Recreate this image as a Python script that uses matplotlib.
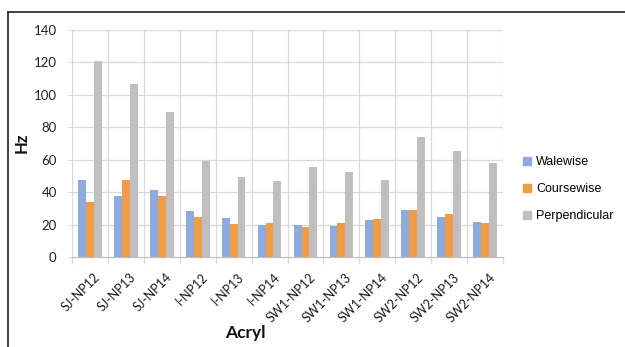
import matplotlib
matplotlib.use("Agg")
import matplotlib.pyplot as plt
import matplotlib.transforms as mtransforms
import numpy as np
from matplotlib.lines import Line2D

categories = ["SJ-NP12", "SJ-NP13", "SJ-NP14", "I-NP12", "I-NP13", "I-NP14",
              "SW1-NP12", "SW1-NP13", "SW1-NP14", "SW2-NP12", "SW2-NP13", "SW2-NP14"]
walewise = [47.6, 37.9, 41.4, 28.3, 24.0, 19.7, 19.7, 18.9, 22.8, 29.1, 24.8, 21.5]
coursewise = [34.2, 47.2, 37.5, 24.4, 20.1, 20.7, 18.5, 21.1, 23.2, 29.1, 26.7, 20.7]
perpendicular = [121.0, 106.7, 89.3, 59.5, 49.6, 47.0, 55.2, 52.3, 47.2, 73.9, 65.5, 58.1]
series_names = ["Walewise", "Coursewise", "Perpendicular"]
y_ticks = [0, 20, 40, 60, 80, 100, 120, 140]

colors = ["#8FAADC", "#F09B47", "#BFBFBF"]
grid_color = "#D9D9D9"

fig = plt.figure(figsize=(6.25, 3.47), dpi=100)
ax = fig.add_axes([72 / 625, 1 - 257 / 347, (503 - 72) / 625, (257 - 30) / 347])

x = np.arange(len(categories))
width = 0.22
for i, (vals, name) in enumerate(zip([walewise, coursewise, perpendicular], series_names)):
    ax.bar(x + (i - 1) * width, vals, width=width, color=colors[i], label=name, zorder=3)

ax.set_xlim(-0.5, len(categories) - 0.5)
ax.set_ylim(0, 140)
ax.set_yticks(y_ticks)
ax.tick_params(axis="y", length=3, width=0.9, color=grid_color, pad=8,
               labelsize=9.5, labelcolor="#222222")

# vertical grid at category boundaries, with ticks below the axis
bounds = np.arange(-0.5, len(categories) + 0.5, 1)
for b in bounds:
    ax.axvline(b, color=grid_color, lw=0.9, zorder=1)
for yv in y_ticks[1:]:
    ax.axhline(yv, color=grid_color, lw=0.9, zorder=1)

ax.set_xticks(bounds, minor=True)
ax.tick_params(axis="x", which="minor", length=5, color=grid_color, width=0.9)
ax.set_xticks(x)
ax.set_xticklabels(categories, rotation=45, ha="right", rotation_mode="anchor",
                   fontsize=9, color="#1A1A1A", family="Lato")
ax.tick_params(axis="x", which="major", length=0, pad=10)
shift = mtransforms.ScaledTranslation(4 / 100, 0, fig.dpi_scale_trans)
for lab in ax.get_xticklabels():
    lab.set_transform(lab.get_transform() + shift)
for lab in ax.get_yticklabels():
    lab.set_family("Lato")

for s in ["top", "right", "left"]:
    ax.spines[s].set_visible(False)
ax.spines["bottom"].set_color("#BFBFBF")
ax.spines["bottom"].set_linewidth(0.9)
ax.spines["bottom"].set_zorder(4)

fig.text(22 / 625, 1 - 143 / 347, "Hz", rotation=90, ha="center", va="center",
         fontsize=12, fontweight="bold", family="Lato", color="#111111")
fig.text(245 / 625, 1 - 333 / 347, "Acryl", ha="center", va="center",
         fontsize=12.5, fontweight="bold", family="Lato", color="#111111")

handles = [Line2D([0], [0], marker="s", linestyle="none", markersize=5.5,
                  markerfacecolor=c, markeredgecolor=c) for c in colors]
fig.legend(handles, series_names, loc="center left", bbox_to_anchor=(511 / 625, 1 - 189 / 347),
           frameon=False, handlelength=0.8, handletextpad=0.3,
           labelspacing=1.2, prop={"family": "Liberation Sans", "size": 9})

# outer frame lines (top and left)
fig.add_artist(Line2D([7.5 / 625, 1], [1 - 11.5 / 347, 1 - 11.5 / 347], color="#333333", lw=1.3))
fig.add_artist(Line2D([7.5 / 625, 7.5 / 625], [0, 1 - 11.5 / 347], color="#333333", lw=1.3))

fig.savefig("out.png", dpi=100)
